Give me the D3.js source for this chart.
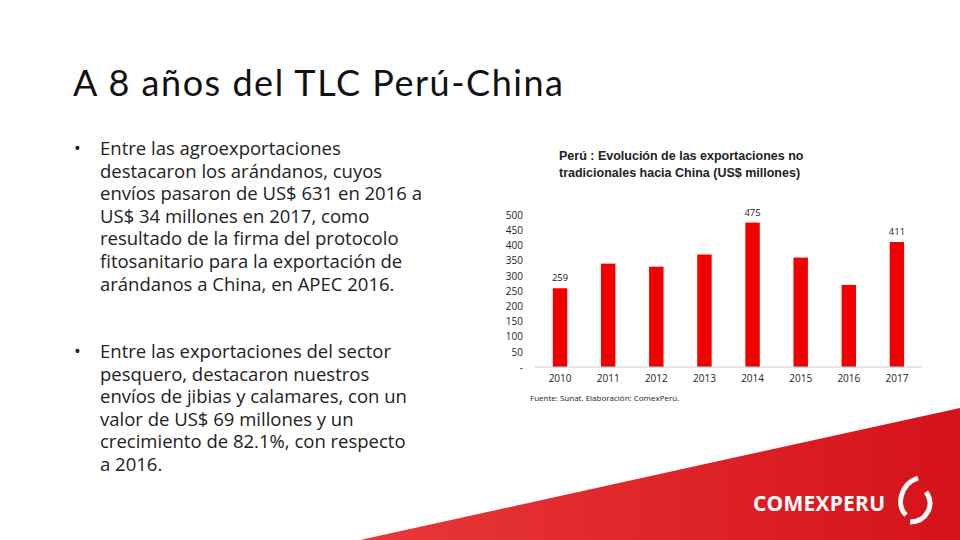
<!DOCTYPE html>
<html><head><meta charset="utf-8">
<script src="https://cdn.jsdelivr.net/npm/d3@7"></script>
<style>body{margin:0;background:#fff}svg{display:block}</style>
</head><body>
<svg id="c" width="960" height="540"></svg>
<script>
const years = ['2010','2011','2012','2013','2014','2015','2016','2017'];
const values = [259, 340, 330, 370, 475, 360, 270, 411];
const labelled = ['2010','2014','2017'];
const yTicks = [0,50,100,150,200,250,300,350,400,450,500];
const bullets = [
  ['Entre las agroexportaciones','destacaron los arándanos, cuyos','envíos pasaron de US$ 631 en 2016 a','US$ 34 millones en 2017, como','resultado de la firma del protocolo','fitosanitario para la exportación de','arándanos a China, en APEC 2016.'],
  ['Entre las exportaciones del sector','pesquero, destacaron nuestros','envíos de jibias y calamares, con un','valor de US$ 69 millones y un','crecimiento de 82.1%, con respecto','a 2016.']
];

const svg = d3.select('#c');
const defs = svg.append('defs');
const g = defs.append('linearGradient').attr('id','rg').attr('x1','0').attr('x2','1');
g.append('stop').attr('offset','0').attr('stop-color','#e8383a');
g.append('stop').attr('offset','1').attr('stop-color','#d5121a');

// footer swoosh
svg.append('path').attr('d','M360,540 L960,408 L960,540 Z').attr('fill','url(#rg)');
svg.append('text').attr('x',753).attr('y',511).attr('fill','#fff')
  .attr('font-family','Open Sans').attr('font-weight',700).attr('font-size',21)
  .attr('textLength',132).text('COMEXPERU');
svg.append('path').attr('d','M918,478 C900,484 896,506 906,515 M926,492 C936,505 926,522 910,522')
  .attr('fill','none').attr('stroke','#fff').attr('stroke-width',5);

svg.append('text').attr('x',73).attr('y',96).attr('font-family','Lato').attr('font-size',36)
  .attr('fill','#111').attr('textLength',490).text('A 8 años del TLC Perú-China');

const bl = [[155,0],[358,1]];
bl.forEach(([y0,i]) => {
  svg.append('text').attr('x',74).attr('y',y0).attr('font-family','Open Sans').attr('font-size',18).attr('fill','#222').text('•');
  bullets[i].forEach((t,j) => svg.append('text').attr('x',100).attr('y',y0+j*22.6)
    .attr('font-family','Open Sans').attr('font-size',18.5).attr('fill','#222').text(t));
});

// chart
svg.append('text').attr('x',559).attr('y',160).attr('font-family','Liberation Sans').attr('font-weight',700)
  .attr('font-size',12.5).attr('fill','#222').text('Perú : Evolución de las exportaciones no');
svg.append('text').attr('x',559).attr('y',177).attr('font-family','Liberation Sans').attr('font-weight',700)
  .attr('font-size',12.5).attr('fill','#222').text('tradicionales hacia China (US$ millones)');

const x = d3.scaleBand().domain(years).range([536,921]).paddingInner(0.7).paddingOuter(0.35);
const y = d3.scaleLinear().domain([0,500]).range([367,215]);

svg.append('g').selectAll('rect').data(years).join('rect')
  .attr('x',d=>x(d)).attr('width',x.bandwidth())
  .attr('y',(d,i)=>y(values[i])).attr('height',(d,i)=>y(0)-y(values[i])).attr('fill','#f20000');

svg.append('line').attr('x1',535).attr('x2',922).attr('y1',y(0)).attr('y2',y(0)).attr('stroke','#ccc');

const ya = svg.append('g').attr('transform','translate(523,0)')
  .call(d3.axisLeft(y).tickValues(yTicks).tickSize(0).tickPadding(0).tickFormat(d=>d===0?'-':d));
ya.select('.domain').remove();
ya.selectAll('text').attr('font-family','Open Sans').attr('font-size',10).attr('fill','#222');

const xa = svg.append('g').attr('transform',`translate(0,${y(0)})`)
  .call(d3.axisBottom(x).tickSize(0).tickPadding(8));
xa.select('.domain').remove();
xa.selectAll('text').attr('font-family','Open Sans').attr('font-size',10).attr('fill','#222');

svg.append('g').selectAll('text').data(years.filter(d=>labelled.includes(d))).join('text')
  .attr('x',d=>x(d)+x.bandwidth()/2).attr('y',d=>y(values[years.indexOf(d)])-7)
  .attr('text-anchor','middle').attr('font-family','Open Sans').attr('font-size',9.5).attr('fill','#222')
  .text(d=>values[years.indexOf(d)]);

svg.append('text').attr('x',530).attr('y',401).attr('font-family','Open Sans').attr('font-size',8)
  .attr('fill','#222').text('Fuente: Sunat. Elaboración: ComexPerú.');
</script>
</body></html>
